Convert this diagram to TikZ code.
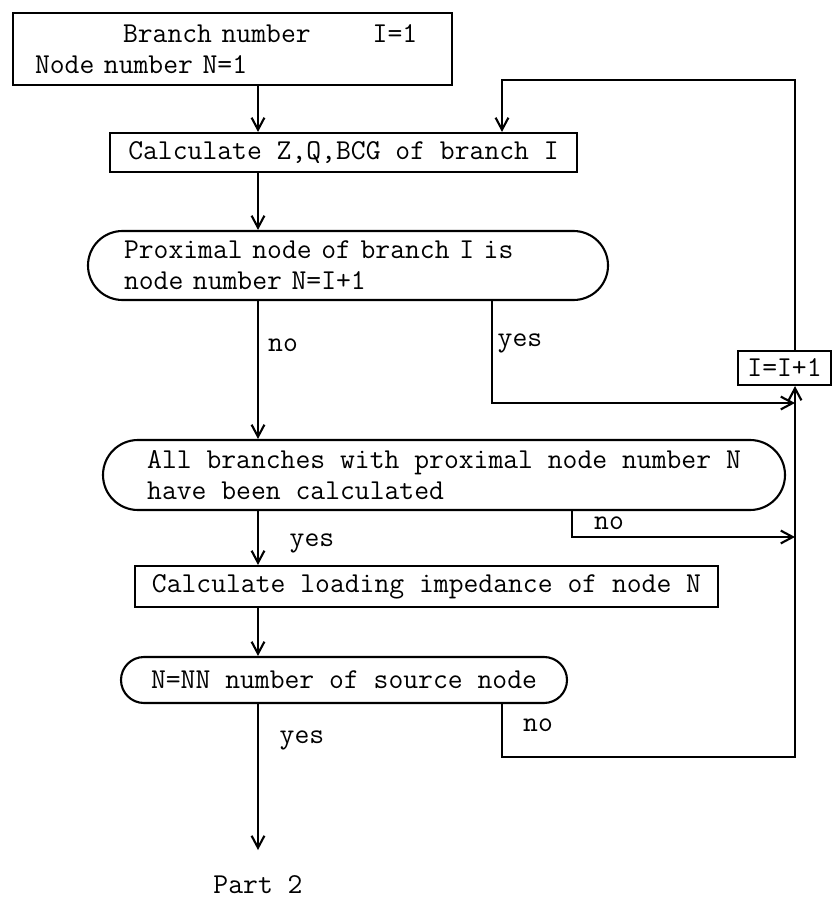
\documentclass[tikz,border=0pt]{standalone}
\usepackage{fontspec}
\usepackage{tikz}
\usetikzlibrary{positioning,arrows.meta,shapes.misc}

\newcommand{\flowfont}{\ttfamily\fontsize{20.5}{22}\selectfont}

\begin{document}
\begin{tikzpicture}[
      >={Straight Barb[length=3mm,width=3.2mm]},
      line width=1.5pt,
      procbox/.style={rectangle, draw=black, line width=1.5pt, inner xsep=0.25cm, inner ysep=0pt, font=\flowfont},
      decision/.style={rounded rectangle, draw=black, line width=1.5pt, inner xsep=0pt, inner ysep=0pt, align=left, font=\flowfont},
      lbl/.style={font=\flowfont, inner sep=0pt},
    ]
    \useasboundingbox (0,0) rectangle (20.8,-22.525);

    % Start values
    \node[procbox, align=left, text width=9.875cm, inner xsep=0.55cm, minimum height=1.8cm] (start) at (5.8125,-1.225)
      {\hspace*{2.2cm}Branch number\hspace{1.55cm}I=1\\Node number N=1};

    % Branch loop
    \node[procbox, minimum width=11.675cm, minimum height=0.975cm] (calcZ) at (8.5875,-3.8125) {Calculate Z,Q,BCG of branch I};
    \node[decision, text width=11.2cm, minimum width=13cm, minimum height=1.725cm] (prox) at (8.7,-6.6375)
      {Proximal node of branch I is\\node number N=I+1};
    \node[decision, minimum width=17.05cm, minimum height=1.75cm] (allbr) at (11.1,-11.875)
      {All branches with proximal node number N\\have been calculated};
    \node[procbox, minimum width=14.575cm, minimum height=1.025cm] (calcL) at (10.6625,-14.6625) {Calculate loading impedance of node N};
    \node[decision, minimum width=11.15cm, minimum height=1.15cm] (srcnode) at (8.6,-17.0) {N=NN number of source node};
    \node[procbox, inner xsep=0.1cm, minimum width=2.325cm, minimum height=0.85cm] (inc) at (19.6125,-9.2) {I=I+1};

    % Columns and rows of the connectors
    \coordinate (mainx) at (6.45,0);
    \coordinate (yesx) at (12.3,0);
    \coordinate (loopx) at (12.55,0);
    \coordinate (nox) at (14.3,0);
    \coordinate (rightx) at (19.875,0);
    \coordinate (looptop) at (0,-2.0);
    \coordinate (yesy) at (0,-10.075);
    \coordinate (noy) at (0,-13.425);
    \coordinate (backy) at (0,-18.925);
    \coordinate (endpt) at (6.45,-21.25);

    % Main flow
    \draw[->] (start.south -| mainx) -- (calcZ.north -| mainx);
    \draw[->] (calcZ.south -| mainx) -- (prox.north -| mainx);
    \draw[->] (prox.south -| mainx) -- (allbr.north -| mainx);
    \draw[->] (allbr.south -| mainx) -- (calcL.north -| mainx);
    \draw[->] (calcL.south -| mainx) -- (srcnode.north -| mainx);
    \draw[->] (srcnode.south -| mainx) -- (endpt);
    \node[lbl, below=0.62cm of endpt] (part2) {Part 2};

    % Branches to I=I+1 and back
    \draw[->] (prox.south -| yesx) |- (rightx |- yesy);
    \draw[->] (allbr.south -| nox) |- (rightx |- noy);
    \draw[->] (srcnode.south -| loopx) |- (rightx |- backy) -- (inc.south -| rightx);
    \draw[->] (inc.north -| rightx) |- (loopx |- looptop) -- (calcZ.north -| loopx);

    % Answers
    \node[lbl] (proxno) at (7.075,-8.625) {no};
    \node[lbl] (proxyes) at (13.0,-8.575) {yes};
    \node[lbl] (allbryes) at (7.8,-13.575) {yes};
    \node[lbl] (allbrno) at (15.225,-13.075) {no};
    \node[lbl] (srcyes) at (7.55,-18.5) {yes};
    \node[lbl] (srcno) at (13.45,-18.125) {no};
  \end{tikzpicture}
\end{document}
